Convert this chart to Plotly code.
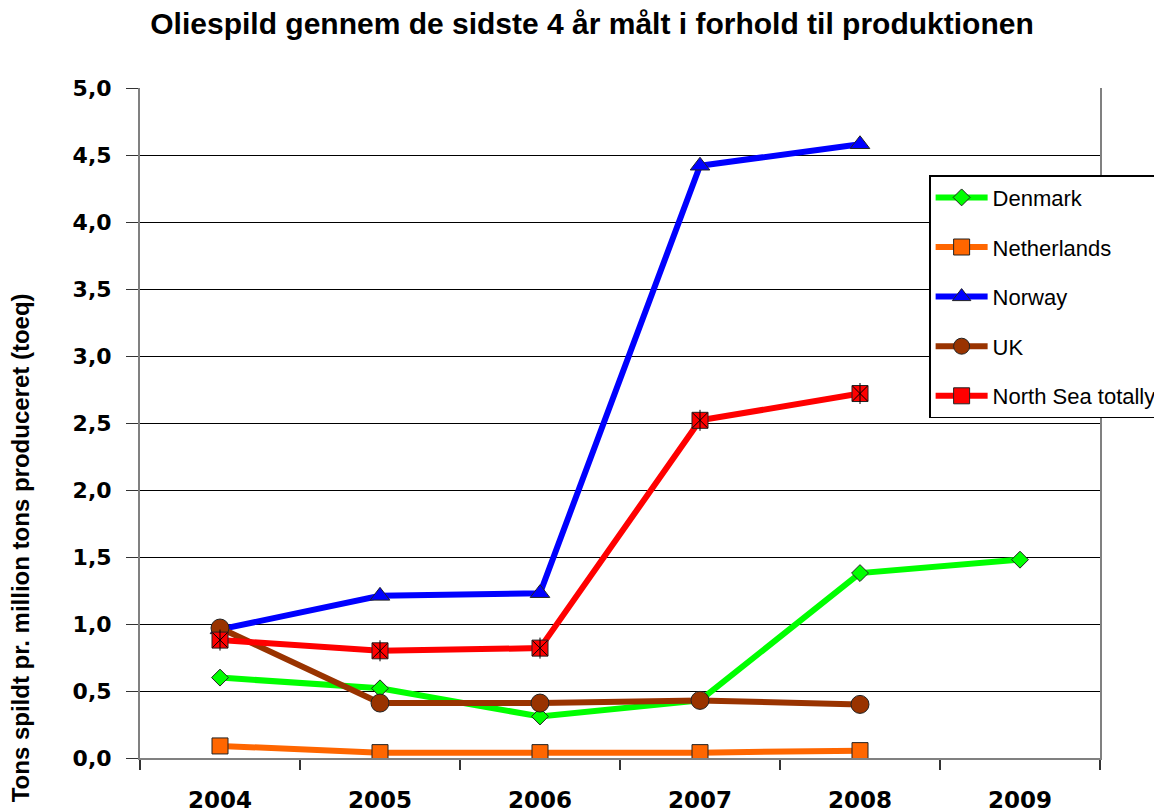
import plotly.graph_objects as go

years = ["2004", "2005", "2006", "2007", "2008", "2009"]
denmark = [0.60, 0.52, 0.31, 0.43, 1.38, 1.48]
netherlands = [0.09, 0.04, 0.04, 0.04, 0.055]
norway = [0.96, 1.21, 1.23, 4.42, 4.58]
uk = [0.97, 0.41, 0.41, 0.43, 0.40]
north_sea = [0.88, 0.80, 0.82, 2.52, 2.72]

y_ticks = [0, 0.5, 1, 1.5, 2, 2.5, 3, 3.5, 4, 4.5, 5]

fig = go.Figure()

def add(name, vals, color, symbol, size, group):
    fig.add_trace(go.Scatter(
        x=years[:len(vals)], y=vals, name=name, mode="lines+markers",
        legendgroup=group,
        line=dict(color=color, width=6),
        marker=dict(symbol=symbol, size=size, color=color,
                    line=dict(color="#222222", width=1)),
    ))

add("Denmark", denmark, "#00FF00", "diamond", 13, "a")
add("Netherlands", netherlands, "#FF6600", "square", 16, "b")
add("Norway", norway, "#0000FF", "triangle-up", 17, "c")
add("UK", uk, "#993300", "circle", 18, "d")
add("North Sea totally", north_sea, "#FF0000", "square", 16, "e")
for sym in ["x-thin-open", "line-ns-open"]:
    fig.add_trace(go.Scatter(
        x=years[:len(north_sea)], y=north_sea, mode="markers",
        legendgroup="e", showlegend=False,
        marker=dict(symbol=sym, size=15, color="#000000",
                    line=dict(color="#000000", width=1)),
    ))

fig.update_layout(
    width=1162, height=811,
    margin=dict(l=132, r=70, t=80, b=61, autoexpand=False),
    paper_bgcolor="white", plot_bgcolor="white",
    separators=",.",
    title=dict(
        text="Oliespild gennem de sidste 4 år målt i forhold til produktionen",
        x=0.5026, xanchor="center", y=0.981, yanchor="middle",
        font=dict(family="Liberation Sans", size=30, color="black", weight="bold"),
    ),
    legend=dict(
        x=0.822, y=0.87, xanchor="left", yanchor="top",
        bgcolor="white", bordercolor="black", borderwidth=1.5,
        font=dict(family="Liberation Sans", size=22, color="black"),
        itemwidth=52, tracegroupgap=18,
    ),
    showlegend=True,
)

fig.update_xaxes(
    type="category", categoryorder="array", categoryarray=years,
    range=[-0.5, 5.5], tickson="boundaries", automargin=False,
    ticks="outside", ticklen=10, tickcolor="#333333", tickwidth=2,
    showline=True, linecolor="#808080", linewidth=2,
    showgrid=False,
    tickfont=dict(family="DejaVu Sans", size=23, color="black", weight="bold"),
    ticklabelstandoff=20,
)
fig.update_yaxes(
    range=[0, 5], tickvals=y_ticks, tickformat=".1f", automargin=False,
    ticks="outside", ticklen=12, tickcolor="#333333", tickwidth=1,
    showline=True, linecolor="#808080", linewidth=2, mirror=True,
    showgrid=True, gridcolor="black", gridwidth=1, zeroline=False,
    tickfont=dict(family="DejaVu Sans", size=22, color="black", weight="bold"),
    ticklabelstandoff=10,
)

fig.add_annotation(
    text="Tons spildt pr. million tons produceret (toeq)",
    xref="paper", yref="paper", x=-0.125, y=0.313,
    xanchor="center", yanchor="middle", textangle=-90, showarrow=False,
    font=dict(family="Liberation Sans", size=24, color="black", weight="bold"),
)

fig.write_html("out.html")
